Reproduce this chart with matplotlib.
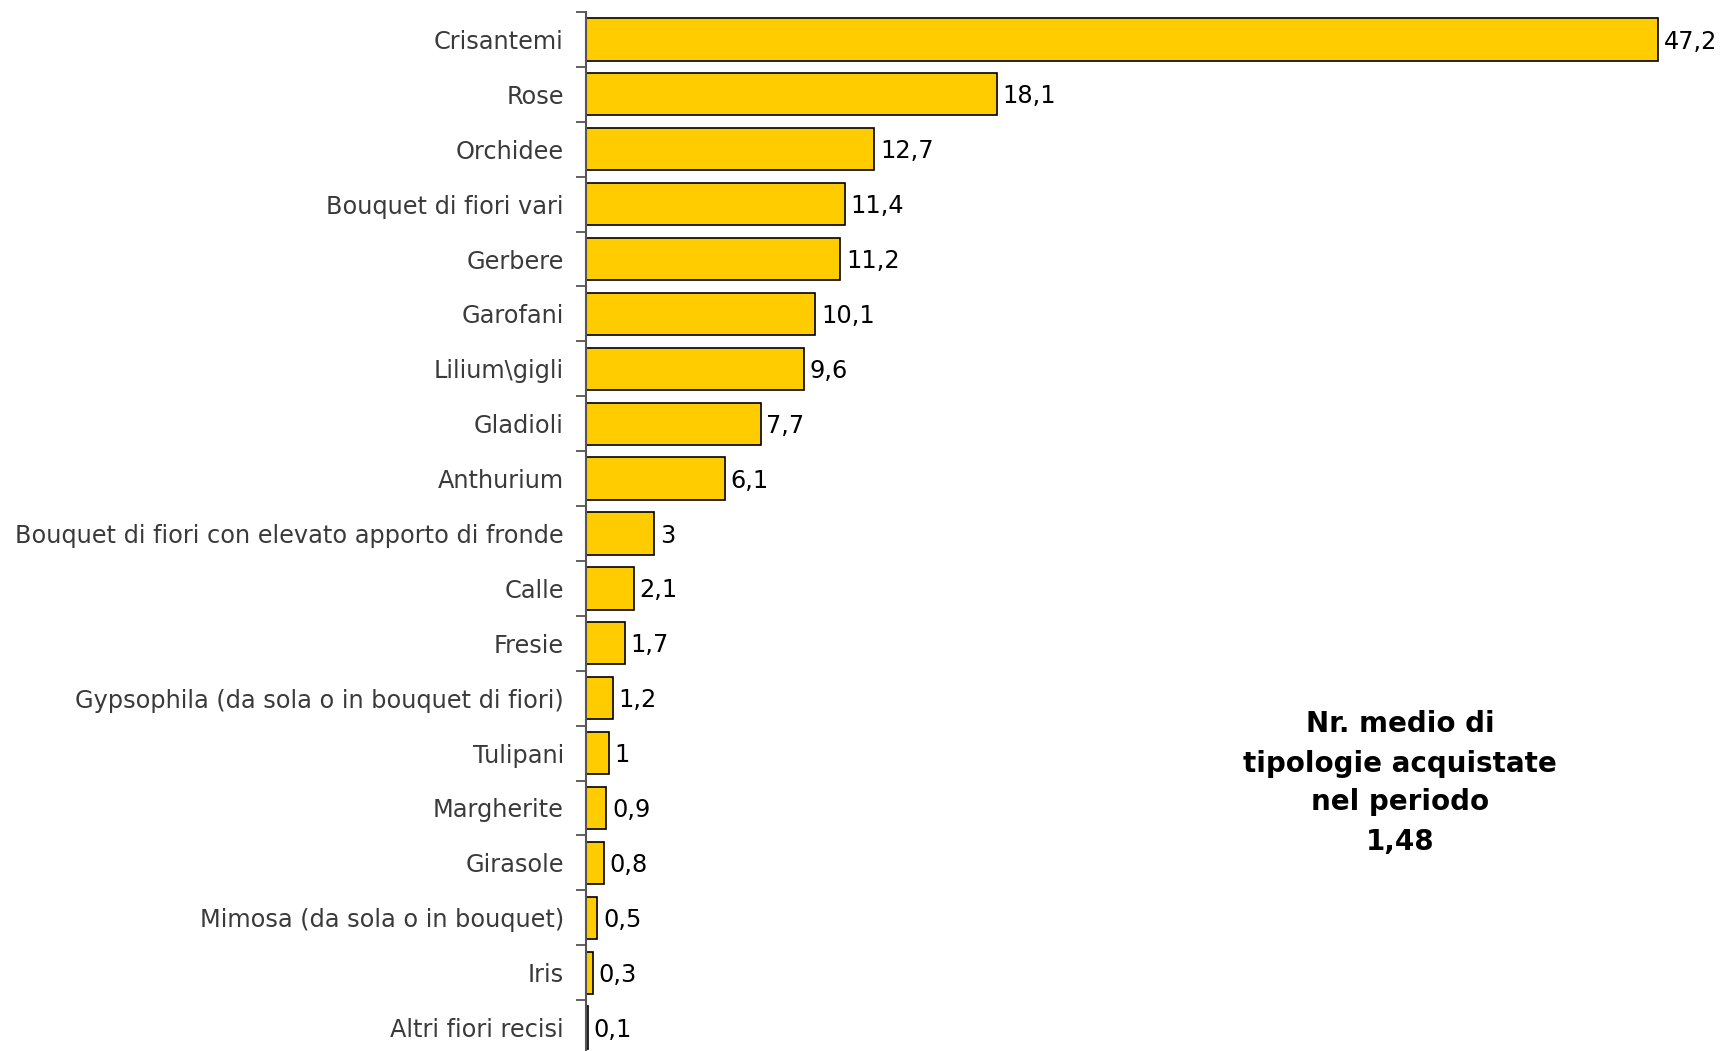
import matplotlib
matplotlib.use("Agg")
import matplotlib.pyplot as plt

# categorie e valori (%)
categorie = [
    "Crisantemi", "Rose", "Orchidee", "Bouquet di fiori vari", "Gerbere",
    "Garofani", "Lilium\\gigli", "Gladioli", "Anthurium",
    "Bouquet di fiori con elevato apporto di fronde", "Calle", "Fresie",
    "Gypsophila (da sola o in bouquet di fiori)", "Tulipani", "Margherite",
    "Girasole", "Mimosa (da sola o in bouquet)", "Iris", "Altri fiori recisi",
]
valori = [47.2, 18.1, 12.7, 11.4, 11.2, 10.1, 9.6, 7.7, 6.1, 3.0, 2.1, 1.7,
          1.2, 1.0, 0.9, 0.8, 0.5, 0.3, 0.1]
etichette = ["47,2", "18,1", "12,7", "11,4", "11,2", "10,1", "9,6", "7,7",
             "6,1", "3", "2,1", "1,7", "1,2", "1", "0,9", "0,8", "0,5",
             "0,3", "0,1"]
nota = "Nr. medio di\ntipologie acquistate\nnel periodo\n1,48"

plt.rcParams["font.family"] = ["DejaVu Sans"]

fig = plt.figure(figsize=(17.2, 10.51), dpi=100)
ax = fig.add_axes([586 / 1720, -4 / 1051, (1700 - 586) / 1720, (1055 - 12) / 1051])

n = len(categorie)
pos = list(range(n))
ax.barh(pos, valori, height=0.77, color="#FFCC00", edgecolor="black",
        linewidth=1.2, zorder=2)

# etichette dei valori
for p, v, t in zip(pos, valori, etichette):
    ax.annotate(t, (v, p), xytext=(4, -1.5), textcoords="offset points",
                va="center", ha="left", fontsize=17.3, color="black")

ax.set_ylim(n - 0.5, -0.5)
ax.set_xlim(0, (1700 - 586) / 22.71)

# tick sui bordi delle categorie, etichette al centro
ax.set_yticks([i - 0.5 for i in range(n + 1)])
ax.set_yticklabels([])
ax.set_yticks(pos, minor=True)
ax.set_yticklabels(categorie, minor=True, fontsize=17.3, color="#3a3a3a")
ax.tick_params(axis="y", which="major", length=7, width=1.3, color="#555555",
               direction="out")
ax.tick_params(axis="y", which="minor", length=0, pad=16)
ax.set_xticks([])

for s in ["top", "right", "bottom"]:
    ax.spines[s].set_visible(False)
ax.spines["left"].set_color("#555555")
ax.spines["left"].set_linewidth(1.5)

fig.text(1400 / 1720, 1 - 783 / 1051, nota, ha="center", va="center",
         fontsize=20, fontweight="bold", linespacing=1.5)

fig.savefig("out.png", dpi=100, facecolor="white")
